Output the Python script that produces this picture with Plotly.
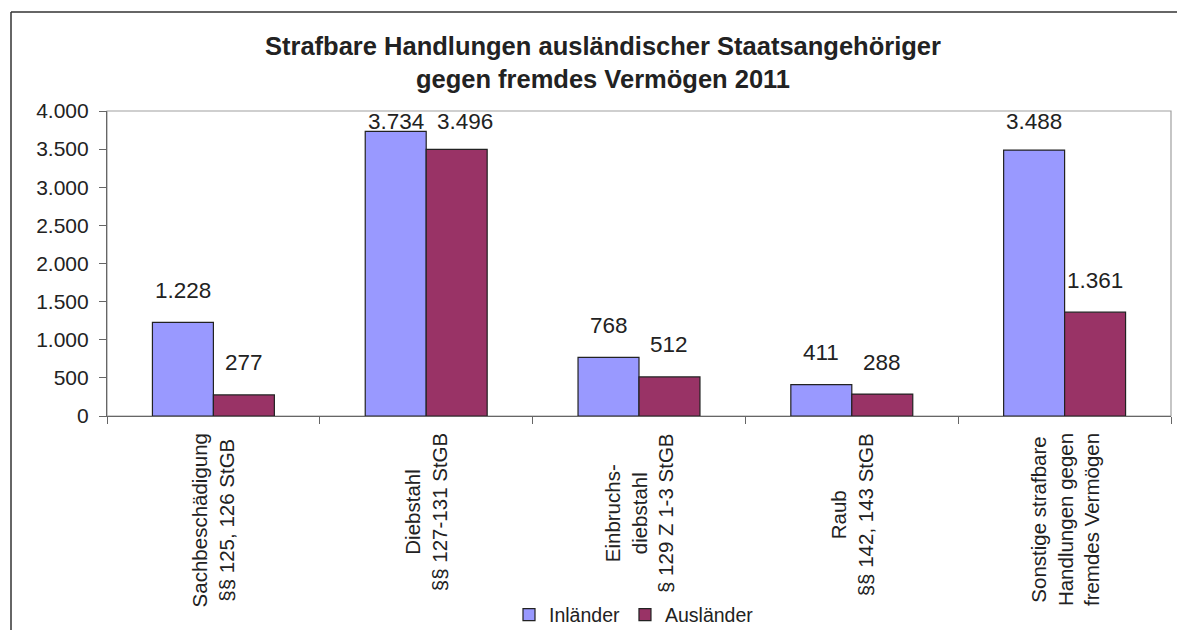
import plotly.graph_objects as go

categories = [
    "Sachbeschädigung<br>§§ 125, 126 StGB",
    "Diebstahl<br>§§ 127-131 StGB",
    "Einbruchs-<br>diebstahl<br>§ 129 Z 1-3 StGB",
    "Raub<br>§§ 142, 143 StGB",
    "Sonstige strafbare<br>Handlungen gegen<br>fremdes Vermögen",
]
inlaender = [1228, 3734, 768, 411, 3488]
auslaender = [277, 3496, 512, 288, 1361]
series_names = ["Inländer", "Ausländer"]
title_text = "Strafbare Handlungen ausländischer Staatsangehöriger<br>gegen fremdes Vermögen 2011"
y_ticks = [0, 500, 1000, 1500, 2000, 2500, 3000, 3500, 4000]

W, H = 1177, 630
L, R, T, B = 107, 1171, 111, 416
FONT = "Liberation Sans, Arial, sans-serif"
YMAX = 4000

def px_x(px):
    return (px - L) / (R - L)

def px_y(py):
    return (B - py) / (B - T)

def fmt(v):
    return f"{v:,}".replace(",", ".")

fig = go.Figure()
colors = ["#9999FF", "#993366"]
for name, vals, col in zip(series_names, [inlaender, auslaender], colors):
    fig.add_trace(go.Bar(
        x=categories, y=vals, name=name,
        marker=dict(color=col, line=dict(color="#222222", width=1.2)),
        hoverinfo="x+y",
    ))

per_px = YMAX / (B - T)
cap = (B - 121) * per_px
annotations = []
bar_half = (R - L) / len(categories) * (1 - 0.427) / 4
for si, vals in enumerate([inlaender, auslaender]):
    for ci, (c, v) in enumerate(zip(categories, vals)):
        shift = -bar_half if si == 0 else bar_half
        both_clamped = (inlaender[ci] + 32 * per_px > cap) and (auslaender[ci] + 32 * per_px > cap)
        if both_clamped and si == 1:
            shift += 8
        yc = min(v + 32 * per_px, cap)
        annotations.append(dict(
            x=c, y=yc, xref="x", yref="y", text=fmt(v), showarrow=False,
            xshift=shift, yanchor="middle", xanchor="center",
            font=dict(family=FONT, size=22.5, color="#222222"),
        ))

for c in categories:
    annotations.append(dict(
        x=c, y=px_y(431), xref="x", yref="paper", text=c, showarrow=False,
        textangle=-90, xanchor="center", yanchor="top", align="center",
        font=dict(family=FONT, size=20.5, color="#222222"),
    ))

annotations.append(dict(
    x=px_x(603), y=px_y(63), xref="paper", yref="paper", text="<b>" + title_text + "</b>",
    showarrow=False, xanchor="center", yanchor="middle", align="center",
    font=dict(family=FONT, size=25.5, color="#222222"),
))

shapes = [
    dict(type="rect", xref="paper", yref="paper", x0=0, x1=1, y0=0, y1=1,
         line=dict(color="#a0a0a0", width=1.2), layer="below"),
    dict(type="line", xref="paper", yref="paper", x0=px_x(11), x1=px_x(11),
         y0=px_y(12), y1=px_y(640), line=dict(color="#333333", width=1.5)),
    dict(type="line", xref="paper", yref="paper", x0=px_x(11), x1=px_x(1190),
         y0=px_y(12), y1=px_y(12), line=dict(color="#333333", width=1.5)),
]

fig.update_layout(
    width=W, height=H,
    margin=dict(l=L, r=W - R, t=T, b=H - B, pad=0, autoexpand=False),
    paper_bgcolor="white", plot_bgcolor="white",
    barmode="group", bargap=0.427, bargroupgap=0,
    separators=",.",
    font=dict(family=FONT, color="#222222"),
    showlegend=True,
    legend=dict(
        orientation="h", xref="container", yref="container",
        x=634 / W, y=1 - 615 / H, xanchor="center", yanchor="middle",
        font=dict(family=FONT, size=19.5, color="#222222"),
        itemwidth=30, tracegroupgap=0, bgcolor="rgba(0,0,0,0)",
    ),
    xaxis=dict(
        type="category", showticklabels=False, ticks="outside", tickson="boundaries",
        ticklen=7, tickcolor="#666666", showline=True, linecolor="#666666", linewidth=1.2,
        showgrid=False, zeroline=False,
    ),
    yaxis=dict(
        range=[0, YMAX], tickvals=y_ticks, tickformat=",d", ticks="outside", ticklen=7,
        tickcolor="#666666", showline=True, linecolor="#666666", linewidth=1.2,
        showgrid=False, zeroline=False, ticklabelstandoff=6,
        tickfont=dict(family=FONT, size=21, color="#222222"),
    ),
    annotations=annotations,
    shapes=shapes,
)

fig.write_html(
    "out.html",
    config={"displayModeBar": False},
    post_script="document.body.style.margin='0';document.body.style.overflow='hidden';",
)
